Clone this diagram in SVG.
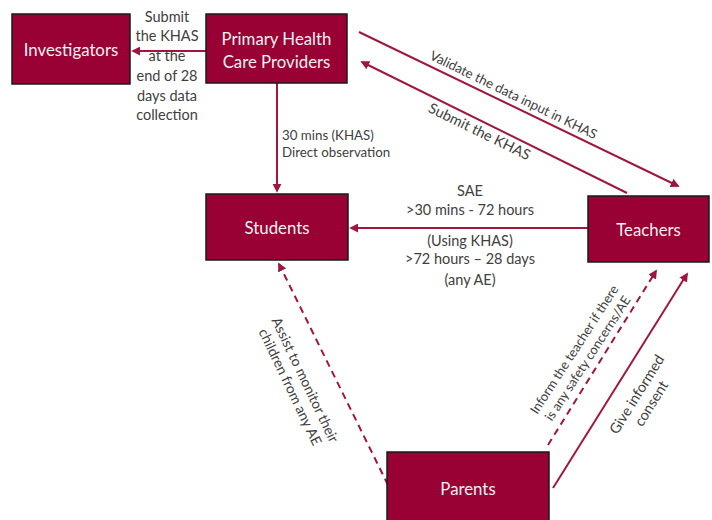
<svg xmlns="http://www.w3.org/2000/svg" width="712" height="520" viewBox="0 0 712 520">
<defs>
<style>
.box{fill:#990033;stroke:#1a1a1a;stroke-width:1.5}
.bt{font-family:Lato,"Liberation Sans",sans-serif;font-size:16.8px;fill:#f2f2f2;text-anchor:middle}
.lb{font-family:Lato,"Liberation Sans",sans-serif;font-size:14.5px;fill:#404040;text-anchor:middle}
.sm{font-family:Lato,"Liberation Sans",sans-serif;font-size:13.3px;fill:#404040}
.ln{stroke:#a0163f;stroke-width:2;fill:none;marker-end:url(#ah)}
.dash{stroke-dasharray:7 5}
</style>
<marker id="ah" viewBox="0 0 10 10" markerWidth="9" markerHeight="9" refX="8" refY="5" orient="auto" markerUnits="userSpaceOnUse">
<path d="M0,0 L10,5 L0,10 z" fill="#a0163f"/>
</marker>
</defs>
<g id="connectors">
<line class="ln" x1="206" y1="51" x2="133" y2="51"/>
<line class="ln" x1="277" y1="83" x2="277" y2="191"/>
<line class="ln" x1="359" y1="32" x2="678" y2="186"/>
<line class="ln" x1="627" y1="193" x2="362" y2="62"/>
<line class="ln" x1="588" y1="228" x2="351" y2="228"/>
<line class="ln dash" x1="388" y1="485" x2="279" y2="264"/>
<line class="ln dash" x1="548" y1="445" x2="656" y2="271"/>
<line class="ln" x1="553" y1="488" x2="687" y2="274"/>
</g>
<g id="labels">
<text class="lb"><tspan x="167" y="21.5">Submit</tspan><tspan x="167" y="41">the KHAS</tspan><tspan x="167" y="61">at the</tspan><tspan x="167" y="81">end of 28</tspan><tspan x="167" y="100.5">days data</tspan><tspan x="167" y="120">collection</tspan></text>
<text class="sm"><tspan x="282" y="139.5">30 mins (KHAS)</tspan><tspan x="282" y="156.5">Direct observation</tspan></text>
<text class="lb"><tspan x="470" y="196">SAE</tspan><tspan x="470" y="215">&gt;30 mins - 72 hours</tspan><tspan x="470" y="246">(Using KHAS)</tspan><tspan x="470" y="264">&gt;72 hours – 28 days</tspan><tspan x="470" y="285">(any AE)</tspan></text>
<text class="sm" text-anchor="middle" transform="translate(513.5,95) rotate(26)" y="4.5">Validate the data input in KHAS</text>
<text class="lb" transform="translate(479.5,131.5) rotate(26)" y="5">Submit the KHAS</text>
<text class="lb" style="font-size:14px" transform="translate(297.5,383.5) rotate(64.5)"><tspan x="0" y="-3.5">Assist to monitor their</tspan><tspan x="0" y="13">children from any AE</tspan></text>
<text class="sm" style="font-size:13px" text-anchor="middle" transform="translate(581,354) rotate(-57)"><tspan x="0" y="-3.5">Inform the teacher if there</tspan><tspan x="0" y="12.5">is any safety concerns/AE</tspan></text>
<text class="lb" transform="translate(644,399) rotate(-58)"><tspan x="0" y="-3.5">Give informed</tspan><tspan x="0" y="13.5">consent</tspan></text>
</g>
<g id="investigators"><rect class="box" x="12" y="14" width="118" height="70"/><text class="bt" x="71" y="55.5">Investigators</text></g>
<g id="phcp"><rect class="box" x="206" y="14" width="141" height="69"/><text class="bt"><tspan x="276.5" y="45">Primary Health</tspan><tspan x="276.5" y="68">Care Providers</tspan></text></g>
<g id="students"><rect class="box" x="206" y="194" width="142" height="66"/><text class="bt" x="277" y="233.5">Students</text></g>
<g id="teachers"><rect class="box" x="588" y="196" width="121" height="66"/><text class="bt" x="648.5" y="235.5">Teachers</text></g>
<g id="parents"><rect class="box" x="387" y="452" width="162" height="75"/><text class="bt" x="468" y="494.5">Parents</text></g>
</svg>
